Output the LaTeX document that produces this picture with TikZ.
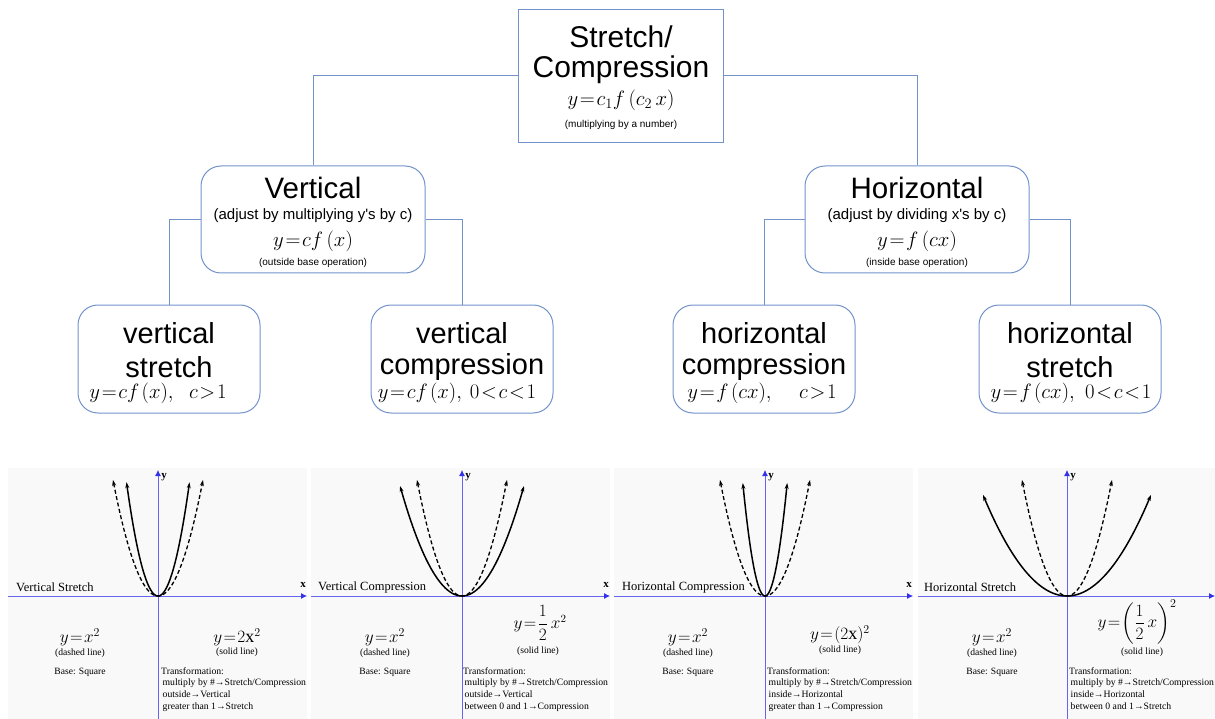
\documentclass[tikz,border=0pt]{standalone}
\usepackage{amsmath}
\usepackage{fontspec}
\setmainfont{Liberation Serif}
\newfontfamily\sansf{Liberation Sans}
\usetikzlibrary{arrows.meta}
\definecolor{boxblue}{RGB}{114,146,202}
\definecolor{axisblue}{RGB}{50,50,235}
\definecolor{panelbg}{RGB}{249,249,249}
\newcommand\tightmath{\thickmuskip=1.5mu\relax}
\tikzset{
  topbox/.style={draw=boxblue, line width=1pt, fill=white, minimum width=205pt, minimum height=133pt, inner sep=0pt},
  midbox/.style={draw=boxblue, line width=1pt, rounded corners=20pt, minimum width=224pt, minimum height=107pt, inner sep=0pt},
  leafbox/.style={draw=boxblue, line width=1pt, rounded corners=20pt, minimum width=182pt, minimum height=108pt, inner sep=0pt},
  link/.style={draw=boxblue, line width=1pt},
  bigtxt/.style={font=\sansf\fontsize{30}{34}\selectfont, inner sep=0pt},
  leaftxt/.style={font=\sansf\fontsize{29}{33}\selectfont, inner sep=0pt},
  midtxt/.style={font=\sansf\fontsize{15}{18}\selectfont, inner sep=0pt},
  smalltxt/.style={font=\sansf\fontsize{10}{12}\selectfont, inner sep=0pt},
  mathbig/.style={font=\fontsize{21}{24}\selectfont\tightmath, inner sep=0pt},
  mathleaf/.style={font=\fontsize{21}{24}\selectfont\tightmath, inner sep=0pt},
  axisline/.style={draw=axisblue!75, line width=0.8pt, -{Latex[length=6pt,width=6pt,color=axisblue]}},
  dcurve/.style={line width=1.3pt, dash pattern=on 4pt off 2.5pt, {Stealth[length=6pt,width=4pt]}-{Stealth[length=6pt,width=4pt]}},
  scurve/.style={line width=1.5pt, {Stealth[length=6pt,width=4pt]}-{Stealth[length=6pt,width=4pt]}},
  ptitle/.style={font=\fontsize{12.5}{14}\selectfont, inner sep=0pt, anchor=west},
  axlab/.style={font=\bfseries\fontsize{11}{13}\selectfont, inner sep=0pt},
  peq/.style={font=\fontsize{18}{20}\selectfont\tightmath, inner sep=0pt},
  peqsmall/.style={font=\fontsize{16}{18}\selectfont\tightmath, inner sep=0pt},
  ptext/.style={font=\fontsize{9.6}{11.7}\selectfont, inner sep=0pt},
  pblock/.style={font=\fontsize{9.7}{11.8}\selectfont, inner sep=0pt, anchor=north west, align=left}
}
\begin{document}
\begin{tikzpicture}[x=1pt, y=-1pt]
\useasboundingbox (0,0) rectangle (1215,719);

% ---------- tree ----------
\node[topbox] (top) at (620.5,76) {};
\node[bigtxt] (top1) at (621,37) {Stretch/};
\node[bigtxt] (top2) at (621,70) {Compression};
\node[mathbig] (top3) at (621,100) {$y=c_1f\,(c_2\,x)$};
\node[smalltxt] (top4) at (621,125) {(multiplying by a number)};

\node[midbox] (vert) at (313,219.5) {};
\node[bigtxt, font=\sansf\fontsize{29.5}{33}\selectfont] (vert1) at (313,188) {Vertical};
\node[midtxt] (vert2) at (313,216) {(adjust by multiplying y's by c)};
\node[mathbig] (vert3) at (313,241) {$y=cf\,(x)$};
\node[smalltxt] (vert4) at (313,263) {(outside base operation)};

\node[midbox] (horz) at (917,219.5) {};
\node[bigtxt, font=\sansf\fontsize{29.5}{33}\selectfont] (horz1) at (917,188) {Horizontal};
\node[midtxt] (horz2) at (917,216) {(adjust by dividing x's by c)};
\node[mathbig] (horz3) at (917,241) {$y=f\,(cx)$};
\node[smalltxt] (horz4) at (917,263) {(inside base operation)};

\node[leafbox] (vs) at (169,359) {};
\node[leaftxt] (vs1) at (169,333) {vertical};
\node[leaftxt] (vs2) at (169,367) {stretch};
\node[mathleaf] (vs3) at (158,393) {$y=cf\mkern2mu(x),\hspace{12pt}c>1$};

\node[leafbox] (vc) at (462,359) {};
\node[leaftxt] (vc1) at (462,333) {vertical};
\node[leaftxt] (vc2) at (462,367) {compression};
\node[mathleaf] (vc3) at (457,393) {$y=cf\mkern2mu(x),\mkern4mu0<c<1$};

\node[leafbox] (hc) at (764,359) {};
\node[leaftxt] (hc1) at (764,333) {horizontal};
\node[leaftxt] (hc2) at (764,367) {compression};
\node[mathleaf] (hc3) at (762,393) {$y=f\mkern2mu(cx),\hspace{24pt}c>1$};

\node[leafbox] (hs) at (1070,359) {};
\node[leaftxt] (hs1) at (1070,333) {horizontal};
\node[leaftxt] (hs2) at (1070,367) {stretch};
\node[mathleaf] (hs3) at (1071,393) {$y=f\mkern2mu(cx),\hspace{7pt}0<c<1$};

\draw[link] (top.west) -| (vert.north);
\draw[link] (top.east) -| (horz.north);
\draw[link] (vert.west) -| (vs.north);
\draw[link] (vert.east) -| (vc.north);
\draw[link] (horz.west) -| (hc.north);
\draw[link] (horz.east) -| (hs.north);

% ---------- panels ----------
\fill[panelbg] (8,468) rectangle (307,719);
\fill[panelbg] (311,468) rectangle (610,719);
\fill[panelbg] (614,468) rectangle (913,719);
\fill[panelbg] (918,468) rectangle (1215,719);

% panel 1
\draw[axisline] (8,596) -- (307,596);
\draw[axisline] (158,719) -- (158,470);
\begin{scope}[shift={(158,596)}, x=15pt, y=12.9pt]
  \draw[dcurve] plot[domain=-3:3, samples=61, smooth] (\x,{\x*\x});
  \draw[scurve] plot[domain=-2.1:2.1, samples=61, smooth] (\x,{2*\x*\x});
\end{scope}
\node[axlab] (p1x) at (303,585) {x};
\node[axlab] (p1y) at (164,477) {y};
\node[ptitle] (p1t) at (16,587) {Vertical Stretch};
\node[peq] (p1a) at (80,637) {$y=x^2$};
\node[ptext] (p1b) at (80,653) {(dashed line)};
\node[ptext] (p1c) at (80,672) {Base: Square};
\node[peq] (p1d) at (237,637) {$y=2\mathrm{x}^2$};
\node[ptext] (p1e) at (237,652) {(solid line)};
\node[pblock] (p1f) at (161,667) {Transformation:\\\hspace*{1.5pt}multiply by \#→Stretch/Compression\\\hspace*{1.5pt}outside→Vertical\\\hspace*{1.5pt}greater than 1→Stretch};

% panel 2
\draw[axisline] (311,596) -- (610,596);
\draw[axisline] (462,719) -- (462,470);
\begin{scope}[shift={(462,596)}, x=15pt, y=12.9pt]
  \draw[dcurve] plot[domain=-3:3, samples=61, smooth] (\x,{\x*\x});
  \draw[scurve] plot[domain=-4.13:4.13, samples=61, smooth] (\x,{0.5*\x*\x});
\end{scope}
\node[axlab] (p2x) at (606,585) {x};
\node[axlab] (p2y) at (468,477) {y};
\node[ptitle] (p2t) at (318,587) {Vertical Compression};
\node[peq] (p2a) at (385,637) {$y=x^2$};
\node[ptext] (p2b) at (385,653) {(dashed line)};
\node[ptext] (p2c) at (385,672) {Base: Square};
\node[peqsmall] (p2d) at (540,623) {$y=\dfrac{1}{2}\,x^2$};
\node[ptext] (p2e) at (538,651) {(solid line)};
\node[pblock] (p2f) at (463,667) {Transformation:\\\hspace*{1.5pt}multiply by \#→Stretch/Compression\\\hspace*{1.5pt}outside→Vertical\\\hspace*{1.5pt}between 0 and 1→Compression};

% panel 3
\draw[axisline] (614,596) -- (913,596);
\draw[axisline] (765,719) -- (765,470);
\begin{scope}[shift={(765,596)}, x=15pt, y=12.9pt]
  \draw[dcurve] plot[domain=-3:3, samples=61, smooth] (\x,{\x*\x});
  \draw[scurve] plot[domain=-1.48:1.48, samples=61, smooth] (\x,{4*\x*\x});
\end{scope}
\node[axlab] (p3x) at (909,585) {x};
\node[axlab] (p3y) at (771,477) {y};
\node[ptitle] (p3t) at (622,587) {Horizontal Compression};
\node[peq] (p3a) at (688,637) {$y=x^2$};
\node[ptext] (p3b) at (688,653) {(dashed line)};
\node[ptext] (p3c) at (688,672) {Base: Square};
\node[peq] (p3d) at (840,635) {$y=(2\mathrm{x})^2$};
\node[ptext] (p3e) at (840,650) {(solid line)};
\node[pblock] (p3f) at (767,667) {Transformation:\\\hspace*{1.5pt}multiply by \#→Stretch/Compression\\\hspace*{1.5pt}inside→Horizontal\\\hspace*{1.5pt}greater than 1→Compression};

% panel 4
\draw[axisline] (918,596) -- (1215,596);
\draw[axisline] (1067,719) -- (1067,470);
\begin{scope}[shift={(1067,596)}, x=15pt, y=12.9pt]
  \draw[dcurve] plot[domain=-3:3, samples=61, smooth] (\x,{\x*\x});
  \draw[scurve] plot[domain=-5.6:5.6, samples=61, smooth] (\x,{0.25*\x*\x});
\end{scope}
\node[axlab] (p4y) at (1073,477) {y};
\node[ptitle] (p4t) at (924,587) {Horizontal Stretch};
\node[peq] (p4a) at (992,637) {$y=x^2$};
\node[ptext] (p4b) at (992,653) {(dashed line)};
\node[ptext] (p4c) at (992,672) {Base: Square};
\node[peq] (p4d) at (1137,622) {$y=\left(\dfrac{1}{2}\,x\right)^{2}$};
\node[ptext] (p4e) at (1142,652) {(solid line)};
\node[pblock] (p4f) at (1069,667) {Transformation:\\\hspace*{1.5pt}multiply by \#→Stretch/Compression\\\hspace*{1.5pt}inside→Horizontal\\\hspace*{1.5pt}between 0 and 1→Stretch};
\end{tikzpicture}
\end{document}
